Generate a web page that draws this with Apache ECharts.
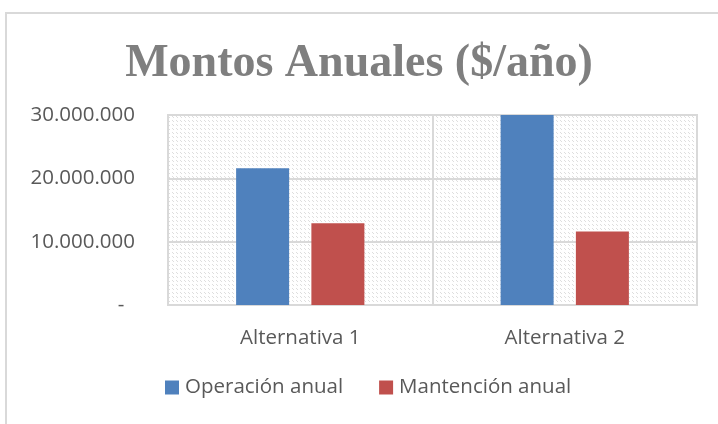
<!DOCTYPE html>
<html>
<head>
<meta charset="utf-8">
<script src="https://cdn.jsdelivr.net/npm/echarts@6/dist/echarts.min.js"></script>
<style>
html,body{margin:0;padding:0;background:#fff;}
#chart{width:718px;height:424px;}
</style>
</head>
<body>
<div id="chart"></div>
<script>
const categories = ['Alternativa 1', 'Alternativa 2'];
const seriesNames = ['Operación anual', 'Mantención anual'];
const operacion = [21600000, 30000000];
const mantencion = [12900000, 11600000];
const yTicks = [0, 10000000, 20000000, 30000000];

function makePattern() {
  const c = document.createElement('canvas');
  c.width = 8; c.height = 8;
  const g = c.getContext('2d');
  g.fillStyle = '#ffffff';
  g.fillRect(0, 0, 8, 8);
  g.fillStyle = '#dedede';
  for (let i = 0; i < 8; i++) {
    if (i % 4 < 2) {
      g.fillRect(i, i, 1, 1);
      g.fillRect((i + 4) % 8, i, 1, 1);
    }
  }
  return c;
}

function fmt(v) {
  if (v === 0) return '-  ';
  return String(Math.round(v)).replace(/\B(?=(\d{3})+(?!\d))/g, '.');
}

const labelFont = {fontFamily: 'Open Sans', fontSize: 20.5, color: '#595959'};

const chart = echarts.init(document.getElementById('chart'), null, {renderer: 'canvas'});
chart.setOption({
  animation: false,
  backgroundColor: '#ffffff',
  graphic: [{
    type: 'polyline',
    shape: {points: [[6, 430], [6, 13], [720, 13]]},
    style: {stroke: '#d9d9d9', lineWidth: 2, fill: null},
    silent: true
  }],
  title: {
    text: 'Montos Anuales ($/año)',
    left: 'center',
    top: 36,
    textStyle: {
      fontFamily: 'Liberation Serif',
      fontWeight: 'bold',
      fontSize: 46,
      color: '#7f7f7f'
    }
  },
  grid: {
    left: 168, right: 21, top: 115, bottom: 119,
    show: true,
    backgroundColor: {image: makePattern(), repeat: 'repeat'},
    borderColor: '#d9d9d9',
    borderWidth: 2
  },
  legend: {
    data: seriesNames,
    top: 377,
    left: 165,
    padding: 0,
    icon: 'rect',
    itemWidth: 14,
    itemHeight: 14,
    itemGap: 36,
    textStyle: Object.assign({}, labelFont, {padding: [0, 0, 0, 1]})
  },
  xAxis: {
    type: 'category',
    data: categories,
    axisLine: {show: false},
    axisTick: {show: false},
    splitLine: {show: true, lineStyle: {color: '#d9d9d9', width: 2}},
    axisLabel: Object.assign({margin: 23}, labelFont)
  },
  yAxis: {
    type: 'value',
    min: yTicks[0],
    max: yTicks[yTicks.length - 1],
    interval: yTicks[1] - yTicks[0],
    axisLine: {show: false},
    axisTick: {show: false},
    splitLine: {show: true, lineStyle: {color: '#d9d9d9', width: 2}},
    axisLabel: Object.assign({margin: 33, formatter: fmt}, labelFont)
  },
  series: [
    {name: seriesNames[0], type: 'bar', data: operacion, barWidth: 53, barGap: '42%',
     itemStyle: {color: '#4f81bd'}},
    {name: seriesNames[1], type: 'bar', data: mantencion, barWidth: 53,
     itemStyle: {color: '#c0504d'}}
  ]
});
</script>
</body>
</html>
